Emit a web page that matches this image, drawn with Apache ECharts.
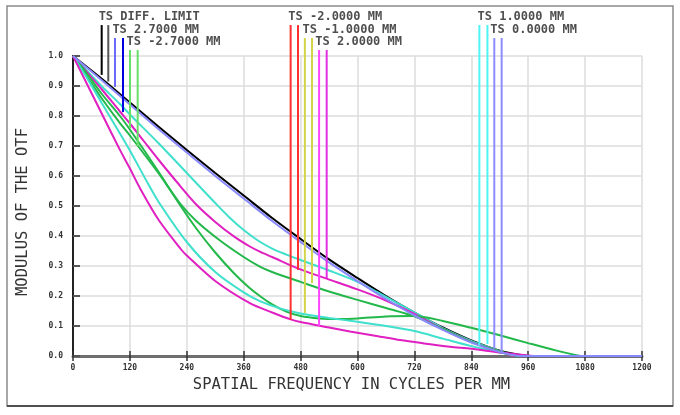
<!DOCTYPE html>
<html><head><meta charset="utf-8">
<script src="https://cdn.jsdelivr.net/npm/echarts@6/dist/echarts.min.js"></script>
<style>html,body{margin:0;padding:0;background:#fff}#c{width:680px;height:415px}</style>
</head><body><div id="c"></div>
<script>
// ---- axis ticks ----
const xTicks = [0,120,240,360,480,600,720,840,960,1080,1200];
const yTicks = [0.0,0.1,0.2,0.3,0.4,0.5,0.6,0.7,0.8,0.9,1.0];

// ---- MTF curves [frequency, modulus] ----
const diffLimit = [[0,1],[60,0.925],[120,0.845],[180,0.765],[240,0.687],[300,0.61],[360,0.535],[420,0.46],[480,0.39],[540,0.322],[600,0.26],[660,0.2],[720,0.145],[780,0.095],[840,0.052],[900,0.018],[960,0]];
const field0 = [[0,1],[60,0.92],[120,0.838],[180,0.757],[240,0.678],[300,0.6],[360,0.525],[420,0.45],[480,0.38],[540,0.312],[600,0.25],[660,0.19],[720,0.135],[780,0.087],[840,0.045],[900,0.013],[940,0]];
const field0Tail = [[940,0],[1200,0]];
const field1Upper = [[0,1],[30,0.95],[60,0.9],[99,0.84],[120,0.805],[180,0.71],[240,0.61],[270,0.56],[300,0.51],[330,0.462],[360,0.42],[390,0.385],[420,0.358],[450,0.338],[480,0.32],[540,0.285],[600,0.247],[660,0.197],[720,0.145],[780,0.093],[840,0.05],[900,0.016],[930,0]];
const field1Lower = [[0,1],[30,0.925],[60,0.845],[99,0.742],[120,0.685],[158,0.575],[180,0.515],[240,0.38],[300,0.28],[360,0.212],[394,0.183],[440,0.157],[480,0.142],[540,0.127],[600,0.114],[660,0.1],[720,0.083],[780,0.058],[840,0.033],[900,0.012],[945,0]];
const field2Upper = [[0,1],[30,0.945],[60,0.89],[99,0.815],[120,0.775],[150,0.715],[180,0.655],[219,0.58],[260,0.505],[300,0.447],[340,0.398],[373,0.365],[394,0.348],[420,0.33],[474,0.292],[535,0.258],[600,0.222],[660,0.185],[720,0.14],[780,0.09],[840,0.047],[900,0.014],[930,0]];
const field2Lower = [[0,1],[30,0.905],[60,0.81],[99,0.687],[120,0.625],[141,0.56],[180,0.455],[228,0.355],[240,0.335],[300,0.25],[373,0.176],[420,0.145],[459,0.122],[480,0.113],[540,0.095],[584,0.082],[640,0.067],[690,0.053],[740,0.042],[795,0.031],[840,0.024],[900,0.012],[970,0]];
const field27Upper = [[0,1],[30,0.93],[60,0.86],[99,0.776],[120,0.735],[180,0.61],[225,0.51],[260,0.45],[310,0.385],[360,0.33],[394,0.298],[420,0.28],[480,0.247],[540,0.215],[600,0.187],[660,0.16],[720,0.132],[780,0.09],[840,0.047],[900,0.015],[940,0]];
const field27Lower = [[0,1],[30,0.94],[60,0.875],[99,0.8],[120,0.755],[180,0.615],[225,0.505],[260,0.425],[300,0.345],[340,0.275],[370,0.23],[394,0.2],[420,0.172],[450,0.148],[480,0.133],[520,0.125],[560,0.123],[600,0.125],[660,0.132],[720,0.133],[780,0.117],[840,0.094],[900,0.069],[960,0.043],[1020,0.018],[1070,0]];

// ---- legend ----
const legendNames = ['TS DIFF. LIMIT','TS 2.7000 MM','TS -2.7000 MM','TS -2.0000 MM','TS -1.0000 MM','TS 2.0000 MM','TS 1.0000 MM','TS 0.0000 MM'];
const legendRow = [0,1,2,0,1,2,0,1];
const legendLabelFreq = [53,82,112,453,483,510,852,879];
const legendLineFreq = [[60.5,74.4],[88.6,105.4],[120.2,136.4],[459,474.5],[489,504],[519,535],[857,874],[888.5,904]];
const legendLineEnd = [[0.937,0.915],[0.897,0.813],[0.76,0.70],[0.12,0.287],[0.143,0.243],[0.10,0.26],[0.035,0.04],[0.025,0.015]];

// ---- styles (not data) ----
const rowLabelY = [1.131,1.087,1.048];
const rowLineTop = [1.103,1.06,1.02];
const legendColors = [['#000000','#555555'],['#6a6aff','#0000e0'],['#66e066','#66e066'],['#ff3030','#ff3030'],['#d4d44a','#d4d44a'],['#ff44ff','#e030e0'],['#50f4f4','#50f4f4'],['#8c8cff','#8c8cff']];

const curves = [
  {data:diffLimit, color:'#000000', smooth:0.3},
  {data:field1Upper, color:'#3fe0cc', smooth:0.3},
  {data:field2Upper, color:'#e020c0', smooth:0.3},
  {data:field27Upper, color:'#22b84a', smooth:0.3},
  {data:field27Lower, color:'#22b84a', smooth:0.3},
  {data:field1Lower, color:'#3fe0cc', smooth:0.3},
  {data:field2Lower, color:'#e020c0', smooth:0.3},
  {data:field0, color:'#8888ff', smooth:0.3},
  {data:field0Tail, color:'#8888ff', smooth:false}
];

const series = [];
curves.forEach((c,i)=>{
  series.push({type:'line', data:c.data, symbol:'none', smooth:c.smooth,
    lineStyle:{color:c.color, width:2}, z:2+i, silent:true, clip:false});
});
legendNames.forEach((n,i)=>{
  const r = legendRow[i];
  for (let k=0;k<2;k++){
    const f = legendLineFreq[i][k];
    series.push({type:'line', data:[[f,rowLineTop[r]],[f,legendLineEnd[i][k]]], symbol:'none',
      lineStyle:{color:legendColors[i][k], width:2}, z:20, silent:true, clip:false});
  }
});
series.push({type:'scatter', symbol:'circle', symbolSize:1, itemStyle:{color:'rgba(0,0,0,0)'}, clip:false, silent:true, z:30,
  data: legendNames.map((n,i)=>({name:n, value:[legendLabelFreq[i], rowLabelY[legendRow[i]]]})),
  label:{show:true, position:'right', distance:0, formatter:p=>p.name, color:'#222',
    fontFamily:'DejaVu Sans Mono', fontWeight:'bold', fontSize:12}});

const tickFont = {fontFamily:'DejaVu Sans Mono', fontWeight:'bold', fontSize:8, color:'#333'};
const chart = echarts.init(document.getElementById('c'), null, {renderer:'canvas'});
chart.setOption({
  animation:false,
  backgroundColor:'#ffffff',
  grid:{left:73, right:38, top:56, bottom:59, show:false},
  graphic:[{type:'rect', shape:{x:7, y:6, width:666, height:400}, style:{fill:'none', stroke:'#8a8a8a', lineWidth:1.5}, z:-1, silent:true},
           {type:'line', shape:{x1:7, y1:406, x2:673, y2:406}, style:{stroke:'#333', lineWidth:1.5}, silent:true}],
  xAxis:[{type:'value', min:0, max:1200, interval:120, position:'bottom',
    name:'SPATIAL FREQUENCY IN CYCLES PER MM', nameLocation:'middle', nameGap:19,
    nameTextStyle:{fontFamily:'DejaVu Sans Mono', fontSize:15.5, color:'#333', padding:[0,12,0,0]},
    axisLine:{show:true, lineStyle:{color:'#222', width:2}},
    axisTick:{show:true, inside:true, length:5, lineStyle:{color:'#333', width:1.5}},
    axisLabel:Object.assign({margin:8, formatter:v=>String(v)}, tickFont),
    splitLine:{show:true, lineStyle:{color:'#dddddd', width:1.5}}},
   {type:'value', min:0, max:1200, interval:120, position:'top',
    axisLine:{show:true, lineStyle:{color:'#6e6e6e', width:3}},
    axisTick:{show:true, inside:true, length:5, lineStyle:{color:'#333', width:1.5}},
    axisLabel:{show:false}, splitLine:{show:false}}],
  yAxis:[{type:'value', min:0, max:1, interval:0.1, position:'left',
    name:'MODULUS OF THE OTF', nameLocation:'middle', nameGap:42,
    nameTextStyle:{fontFamily:'DejaVu Sans Mono', fontSize:15.5, color:'#333', padding:[0,12,0,0]},
    axisLine:{show:true, lineStyle:{color:'#222', width:2}},
    axisTick:{show:true, inside:true, length:7, lineStyle:{color:'#555', width:2}},
    axisLabel:Object.assign({margin:10, formatter:v=>v.toFixed(1)}, tickFont),
    splitLine:{show:true, lineStyle:{color:'#dddddd', width:1.5}}},
   {type:'value', min:0, max:1, interval:0.1, position:'right',
    axisLine:{show:true, lineStyle:{color:'#222', width:2}},
    axisTick:{show:false}, axisLabel:{show:false}, splitLine:{show:false}}],
  series: series
});
</script>
</body></html>
